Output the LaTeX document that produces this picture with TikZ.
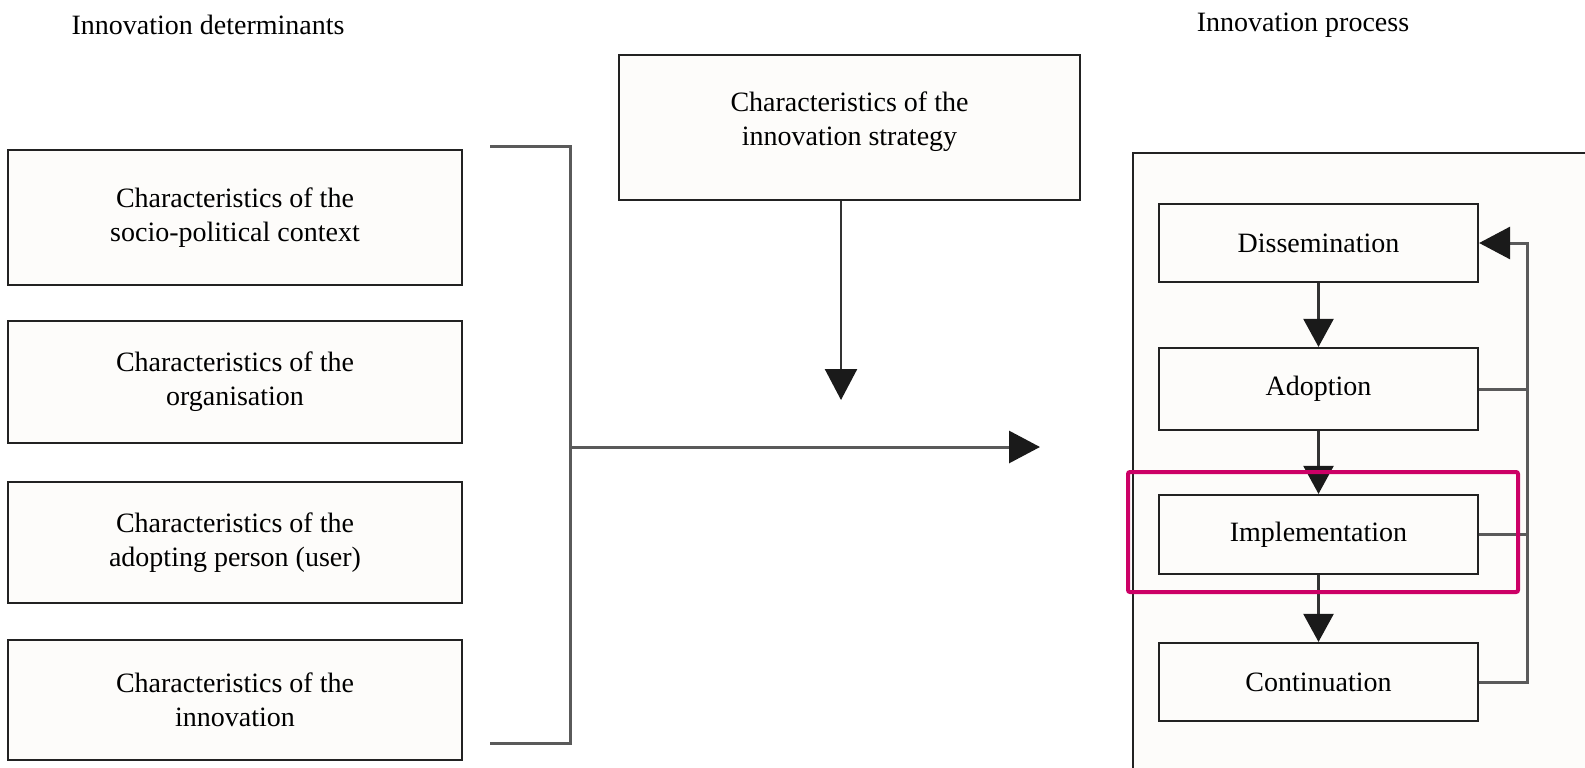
\documentclass[tikz,border=0pt]{standalone}
\usepackage{fontspec}
\setmainfont{Liberation Serif}
\usetikzlibrary{arrows.meta}
\definecolor{boxfill}{HTML}{FDFCFA}
\definecolor{conn}{HTML}{5A5A5A}
\definecolor{innerconn}{HTML}{333333}
\definecolor{edge}{HTML}{222222}
\definecolor{tipcol}{HTML}{1A1A1A}
\definecolor{hilite}{HTML}{CC0066}
\begin{document}
\begin{tikzpicture}[x=1pt,y=-1pt,
  txt/.style={font=\fontsize{28}{34}\selectfont, align=center},
  box/.style={draw=edge, fill=boxfill, line width=2.2pt, inner sep=0pt, txt},
  conline/.style={draw=conn, line width=3pt},
  inline/.style={draw=innerconn, line width=2.4pt},
  arr/.style={conline, -{Triangle[length=31pt,width=32pt,color=tipcol]}},
  inarr/.style={inline, -{Triangle[length=28pt,width=30pt,color=tipcol]}},
  head/.style={font=\fontsize{28}{34}\selectfont}
]
\useasboundingbox (0,0) rectangle (1585,768);
\clip (0,0) rectangle (1585,768);
\fill[white] (0,0) rectangle (1585,768);

% headings
\node[head] (h1) at (208,25) {Innovation determinants};
\node[head] (h2) at (1303,25) {Innovation process};

% left determinant boxes
\node[box, minimum width=454pt, minimum height=135pt] (s1) at (235,217.5) {Characteristics of the\\socio-political context};
\node[box, minimum width=454pt, minimum height=122pt] (s2) at (235,382) {Characteristics of the\\organisation};
\node[box, minimum width=454pt, minimum height=121pt] (s3) at (235,542.5) {Characteristics of the\\adopting person (user)};
\node[box, minimum width=454pt, minimum height=120pt] (s4) at (235,700) {Characteristics of the\\innovation};

% strategy box
\node[box, minimum width=461pt, minimum height=145pt] (strat) at (849.5,127.5) {};
\node[txt] (stratlbl) at (849.5,122) {Characteristics of the\\innovation strategy};

% bracket
\coordinate (b1) at (490,146);
\coordinate (b2) at (570,146);
\coordinate (b3) at (570,743);
\coordinate (b4) at (490,743);
\coordinate (m) at (570,447);
\coordinate (t) at (1040,447);
\coordinate (st) at (841,400);
\draw[conline] (b1) -- (b2) -- (b3) -- (b4);
\draw[arr] (m) -- (t);
\draw[arr, draw=innerconn, line width=2.4pt] (strat.south -| st) -- (st);

% process frame
\node[draw=edge, fill=boxfill, line width=2.2pt, minimum width=467pt, minimum height=637pt, inner sep=0pt] (proc) at (1366.5,471.5) {};

% process steps
\node[box, minimum width=319pt, minimum height=78pt] (dis) at (1318.5,243) {Dissemination};
\node[box, minimum width=319pt, minimum height=82pt] (ado) at (1318.5,389) {Adoption};
\node[box, minimum width=319pt, minimum height=79pt] (imp) at (1318.5,534.5) {Implementation};
\node[box, minimum width=319pt, minimum height=78pt] (con) at (1318.5,682) {Continuation};

\draw[inarr] (dis.south) -- (ado.north);
\draw[inarr] (ado.south) -- (imp.north);
\draw[inarr] (imp.south) -- (con.north);

% feedback loop
\coordinate (fb) at (1527,0);
\draw[arr] (con.east) -- (con.east -| fb) |- (dis.east);
\draw[conline] (ado.east) -- (ado.east -| fb);
\draw[conline] (imp.east) -- (imp.east -| fb);

% highlight
\node[draw=hilite, line width=4pt, rounded corners=2pt, minimum width=390pt, minimum height=120pt, inner sep=0pt] (hl) at (1323,532) {};
\end{tikzpicture}
\end{document}
